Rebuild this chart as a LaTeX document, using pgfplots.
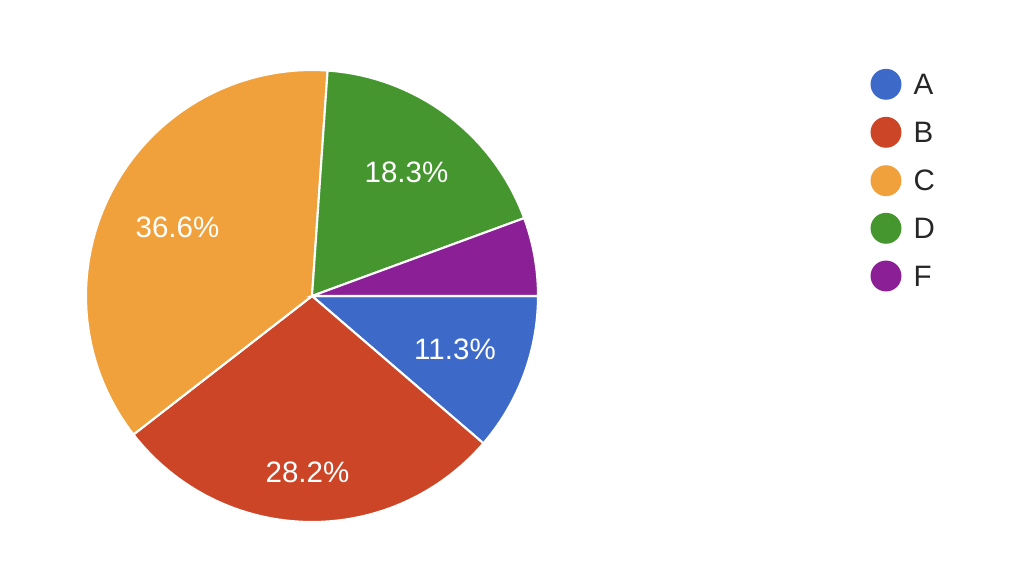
\documentclass[border=0pt]{standalone}
\usepackage{pgfplots}
\pgfplotsset{compat=1.18}
\usepackage{fontspec}
\setmainfont{Liberation Sans}
\definecolor{cA}{HTML}{3D6AC8}
\definecolor{cB}{HTML}{CD4527}
\definecolor{cC}{HTML}{F1A13B}
\definecolor{cD}{HTML}{45962F}
\definecolor{cF}{HTML}{8B1F96}
\begin{document}
\begin{tikzpicture}
% shares in percent
\def\pA{11.3}\def\pB{28.2}\def\pC{36.6}\def\pD{18.3}\def\pF{5.6}
\pgfmathsetmacro\eA{-3.6*\pA}
\pgfmathsetmacro\eB{\eA-3.6*\pB}
\pgfmathsetmacro\eC{\eB-3.6*\pC}
\pgfmathsetmacro\eD{\eC-3.6*\pD}
\pgfmathsetmacro\eF{\eD-3.6*\pF}
\def\cx{312}\def\cy{286}\def\R{226}
\begin{axis}[
  width=10.24cm, height=5.82cm, scale only axis,
  xmin=0, xmax=1024, ymin=0, ymax=582,
  hide axis, clip=false,
]
\addplot[fill=cA, draw=white, line width=0.6pt, domain=\eA:0, samples=60, variable=\t]
  ({\cx+\R*cos(\t)},{\cy+\R*sin(\t)}) -- (axis cs:\cx,\cy) -- cycle;
\addplot[fill=cB, draw=white, line width=0.6pt, domain=\eB:\eA, samples=80, variable=\t]
  ({\cx+\R*cos(\t)},{\cy+\R*sin(\t)}) -- (axis cs:\cx,\cy) -- cycle;
\addplot[fill=cC, draw=white, line width=0.6pt, domain=\eC:\eB, samples=100, variable=\t]
  ({\cx+\R*cos(\t)},{\cy+\R*sin(\t)}) -- (axis cs:\cx,\cy) -- cycle;
\addplot[fill=cD, draw=white, line width=0.6pt, domain=\eD:\eC, samples=60, variable=\t]
  ({\cx+\R*cos(\t)},{\cy+\R*sin(\t)}) -- (axis cs:\cx,\cy) -- cycle;
\addplot[fill=cF, draw=white, line width=0.6pt, domain=\eF:\eD, samples=30, variable=\t]
  ({\cx+\R*cos(\t)},{\cy+\R*sin(\t)}) -- (axis cs:\cx,\cy) -- cycle;
% slice labels
\begin{scope}[every node/.style={font=\fontsize{8.4pt}{10pt}\selectfont, text=white, inner sep=0pt, anchor=base}]
\node at (axis cs:177.5,345) {36.6\%};
\node at (axis cs:307.5,100) {28.2\%};
\node at (axis cs:455,223) {11.3\%};
\node at (axis cs:406.5,400) {18.3\%};
\end{scope}
% legend markers
\addplot[only marks, mark=*, mark size=4.2pt, color=cA] coordinates {(886,497.7)};
\addplot[only marks, mark=*, mark size=4.2pt, color=cB] coordinates {(886,449.7)};
\addplot[only marks, mark=*, mark size=4.2pt, color=cC] coordinates {(886,401.3)};
\addplot[only marks, mark=*, mark size=4.2pt, color=cD] coordinates {(886,353.7)};
\addplot[only marks, mark=*, mark size=4.2pt, color=cF] coordinates {(886,306)};
\begin{scope}[every node/.style={font=\fontsize{8.4pt}{10pt}\selectfont, text=black!85, inner sep=0pt, anchor=base west}]
\node at (axis cs:913,487.7) {A};
\node at (axis cs:913,439.7) {B};
\node at (axis cs:913,391.3) {C};
\node at (axis cs:913,343.7) {D};
\node at (axis cs:913,296) {F};
\end{scope}
\end{axis}
\path (current axis.south west) rectangle (current axis.north east);
\end{tikzpicture}
\end{document}
